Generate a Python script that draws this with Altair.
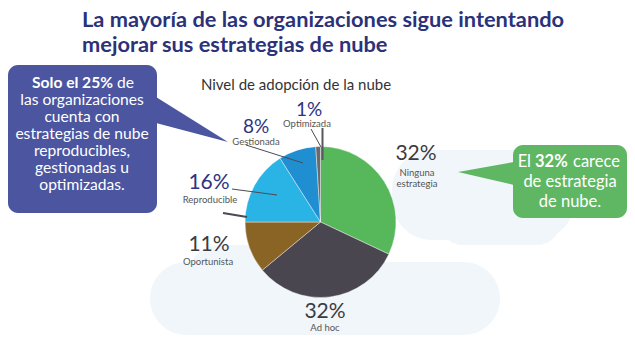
import altair as alt
import pandas as pd

# ---- data ----
categories = ["Ninguna estrategia", "Ad hoc", "Oportunista", "Reproducible", "Gestionada", "Optimizada"]
values = [32, 32, 11, 16, 8, 1]
slice_colors = ["#57b85b", "#4a4650", "#8a6424", "#2ab4e6", "#1f8fd2", "#6a6a6e"]

pct_labels = ["32%", "32%", "11%", "16%", "8%", "1%"]
name_labels = [["Ninguna", "estrategia"], ["Ad hoc"], ["Oportunista"], ["Reproducible"], ["Gestionada"], ["Optimizada"]]

title_lines = ["La mayoría de las organizaciones sigue intentando", "mejorar sus estrategias de nube"]
subtitle = "Nivel de adopción de la nube"
left_bold = "Solo el 25%"
left_lines = ["de", "las organizaciones", "cuenta con", "estrategias de nube", "reproducibles,", "gestionadas u", "optimizadas."]
right_bold = "32%"
right_lines = ["El", "carece", "de estrategia", "de nube."]

W, H = 635, 344
CX, CY, R = 320.5, 222, 75.5

xs = alt.Scale(domain=[0, W], range=[0, W])
ys = alt.Scale(domain=[0, H], range=[0, H])


def X(f):
    return alt.X(f, type="quantitative", scale=xs, axis=None)


def Y(f):
    return alt.Y(f, type="quantitative", scale=ys, axis=None)


pie_df = pd.DataFrame({"cat": categories, "v": values, "idx": list(range(len(values)))})

pie = alt.Chart(pie_df).mark_arc(outerRadius=R, stroke="#ffffff", strokeWidth=0.4).encode(
    theta=alt.Theta("v:Q", stack=True),
    order=alt.Order("idx:Q"),
    color=alt.Color("cat:N", scale=alt.Scale(domain=categories, range=slice_colors), legend=None),
    x=alt.value(CX),
    y=alt.value(CY),
)

clouds_df = pd.DataFrame({
    "x": [392, 150, 440, 190],
    "x2": [575, 500, 560, 330],
    "y": [150, 262, 200, 245],
    "y2": [240, 335, 245, 300],
})
clouds = alt.Chart(clouds_df).mark_rect(color="#f1f6fb", cornerRadius=40).encode(
    x=X("x"), x2="x2", y=Y("y"), y2="y2"
)

boxes_df = pd.DataFrame({
    "x": [8, 513], "x2": [157, 627], "y": [65, 145], "y2": [213, 218],
    "c": ["#4b55a0", "#5fb763"],
})
boxes = alt.Chart(boxes_df).mark_rect(cornerRadius=10).encode(
    x=X("x"), x2="x2", y=Y("y"), y2="y2", color=alt.Color("c:N", scale=None)
)

ptr_left = pd.DataFrame({"x": [156, 228], "y": [97, 142], "y2": [123, 142]})
ptr_right = pd.DataFrame({"x": [458, 514], "y": [172, 162], "y2": [172, 185]})
pl = alt.Chart(ptr_left).mark_area(color="#4b55a0").encode(x=X("x"), y=Y("y"), y2="y2")
pr = alt.Chart(ptr_right).mark_area(color="#5fb763").encode(x=X("x"), y=Y("y"), y2="y2")

leaders_df = pd.DataFrame({
    "x": [311, 246, 232, 223],
    "y": [129, 145, 189, 213],
    "x2": [321, 303, 277, 247],
    "y2": [147, 163, 195, 217],
    "w": [1, 1, 1, 2.2],
})
leaders = alt.Chart(leaders_df).mark_rule(color="#4a4a55").encode(
    x=X("x"), y=Y("y"), x2="x2", y2="y2", strokeWidth=alt.StrokeWidth("w:Q", scale=None)
)
opt_edge = alt.Chart(pd.DataFrame({"x": [322.5], "y": [128], "y2": [160]})).mark_rule(
    color="#55575c", strokeWidth=2
).encode(x=X("x"), y=Y("y"), y2="y2")

FONT = "Lato"

title_df = pd.DataFrame({"t": title_lines, "x": [82, 82], "y": [20, 45]})
title = alt.Chart(title_df).mark_text(
    font=FONT, fontSize=21.8, fontWeight="bold", color="#2c3279", align="left", baseline="middle"
).encode(x=X("x"), y=Y("y"), text="t:N")

sub = alt.Chart(pd.DataFrame({"t": [subtitle], "x": [296], "y": [85]})).mark_text(
    font=FONT, fontSize=15, color="#333333", align="center", baseline="middle"
).encode(x=X("x"), y=Y("y"), text="t:N")

pct_x = [416, 325, 209, 209, 256, 309]
pct_y = [154, 312, 245, 183, 127, 110]
pct_c = ["#3c3c40", "#3c3c40", "#3c3c40", "#2e3383", "#2e3383", "#2e3383"]
pct_s = [21, 21, 21, 21, 19, 19]
pct_df = pd.DataFrame({"t": pct_labels, "x": pct_x, "y": pct_y, "c": pct_c, "s": pct_s})
pcts = alt.Chart(pct_df).mark_text(font=FONT, align="center", baseline="middle").encode(
    x=X("x"), y=Y("y"), text="t:N", color=alt.Color("c:N", scale=None), size=alt.Size("s:Q", scale=None)
)

nx, ny, nt = [], [], []
name_pos = [(417, 173), (325, 328), (208, 262), (210, 200), (256, 142), (307, 124)]
for lines, (px, py) in zip(name_labels, name_pos):
    for k, ln in enumerate(lines):
        nt.append(ln)
        nx.append(px)
        ny.append(py + 11 * k)
names = alt.Chart(pd.DataFrame({"t": nt, "x": nx, "y": ny})).mark_text(
    font=FONT, fontSize=9.5, color="#555555", align="center", baseline="middle"
).encode(x=X("x"), y=Y("y"), text="t:N")

# left box text
BOX_FS = 15.6
lb = alt.Chart(pd.DataFrame({"t": [left_bold], "x": [113], "y": [83]})).mark_text(
    font=FONT, fontSize=BOX_FS, fontWeight="bold", color="#ffffff", align="right", baseline="middle"
).encode(x=X("x"), y=Y("y"), text="t:N")
lt_x = [117] + [82] * (len(left_lines) - 1)
lt_y = [83 + 17 * k for k in range(len(left_lines))]
lt_df = pd.DataFrame({"t": left_lines, "x": lt_x, "y": lt_y})
lt_first = alt.Chart(lt_df.iloc[:1]).mark_text(
    font=FONT, fontSize=BOX_FS, color="#ffffff", align="left", baseline="middle"
).encode(x=X("x"), y=Y("y"), text="t:N")
lt_rest = alt.Chart(lt_df.iloc[1:]).mark_text(
    font=FONT, fontSize=BOX_FS, color="#ffffff", align="center", baseline="middle"
).encode(x=X("x"), y=Y("y"), text="t:N")

# right box text
RFS = 16.5
rb = alt.Chart(pd.DataFrame({"t": [right_bold], "x": [535], "y": [162]})).mark_text(
    font=FONT, fontSize=RFS, fontWeight="bold", color="#ffffff", align="left", baseline="middle"
).encode(x=X("x"), y=Y("y"), text="t:N")
rt_df = pd.DataFrame({
    "t": right_lines,
    "x": [531, 573, 570, 570],
    "y": [162, 162, 182, 202],
})
rt1 = alt.Chart(rt_df.iloc[:1]).mark_text(
    font=FONT, fontSize=RFS, color="#ffffff", align="right", baseline="middle"
).encode(x=X("x"), y=Y("y"), text="t:N")
rt2 = alt.Chart(rt_df.iloc[1:2]).mark_text(
    font=FONT, fontSize=RFS, color="#ffffff", align="left", baseline="middle"
).encode(x=X("x"), y=Y("y"), text="t:N")
rt3 = alt.Chart(rt_df.iloc[2:]).mark_text(
    font=FONT, fontSize=RFS, color="#ffffff", align="center", baseline="middle"
).encode(x=X("x"), y=Y("y"), text="t:N")

chart = alt.layer(
    clouds, pie, opt_edge, leaders, boxes, pl, pr, title, sub, pcts, names,
    lb, lt_first, lt_rest, rb, rt1, rt2, rt3,
).properties(
    width=W, height=H, padding=0, autosize=alt.AutoSizeParams(type="none"), background="#ffffff"
).configure_view(stroke=None)

chart.save("out.html", embed_options={"renderer": "svg", "actions": False})
